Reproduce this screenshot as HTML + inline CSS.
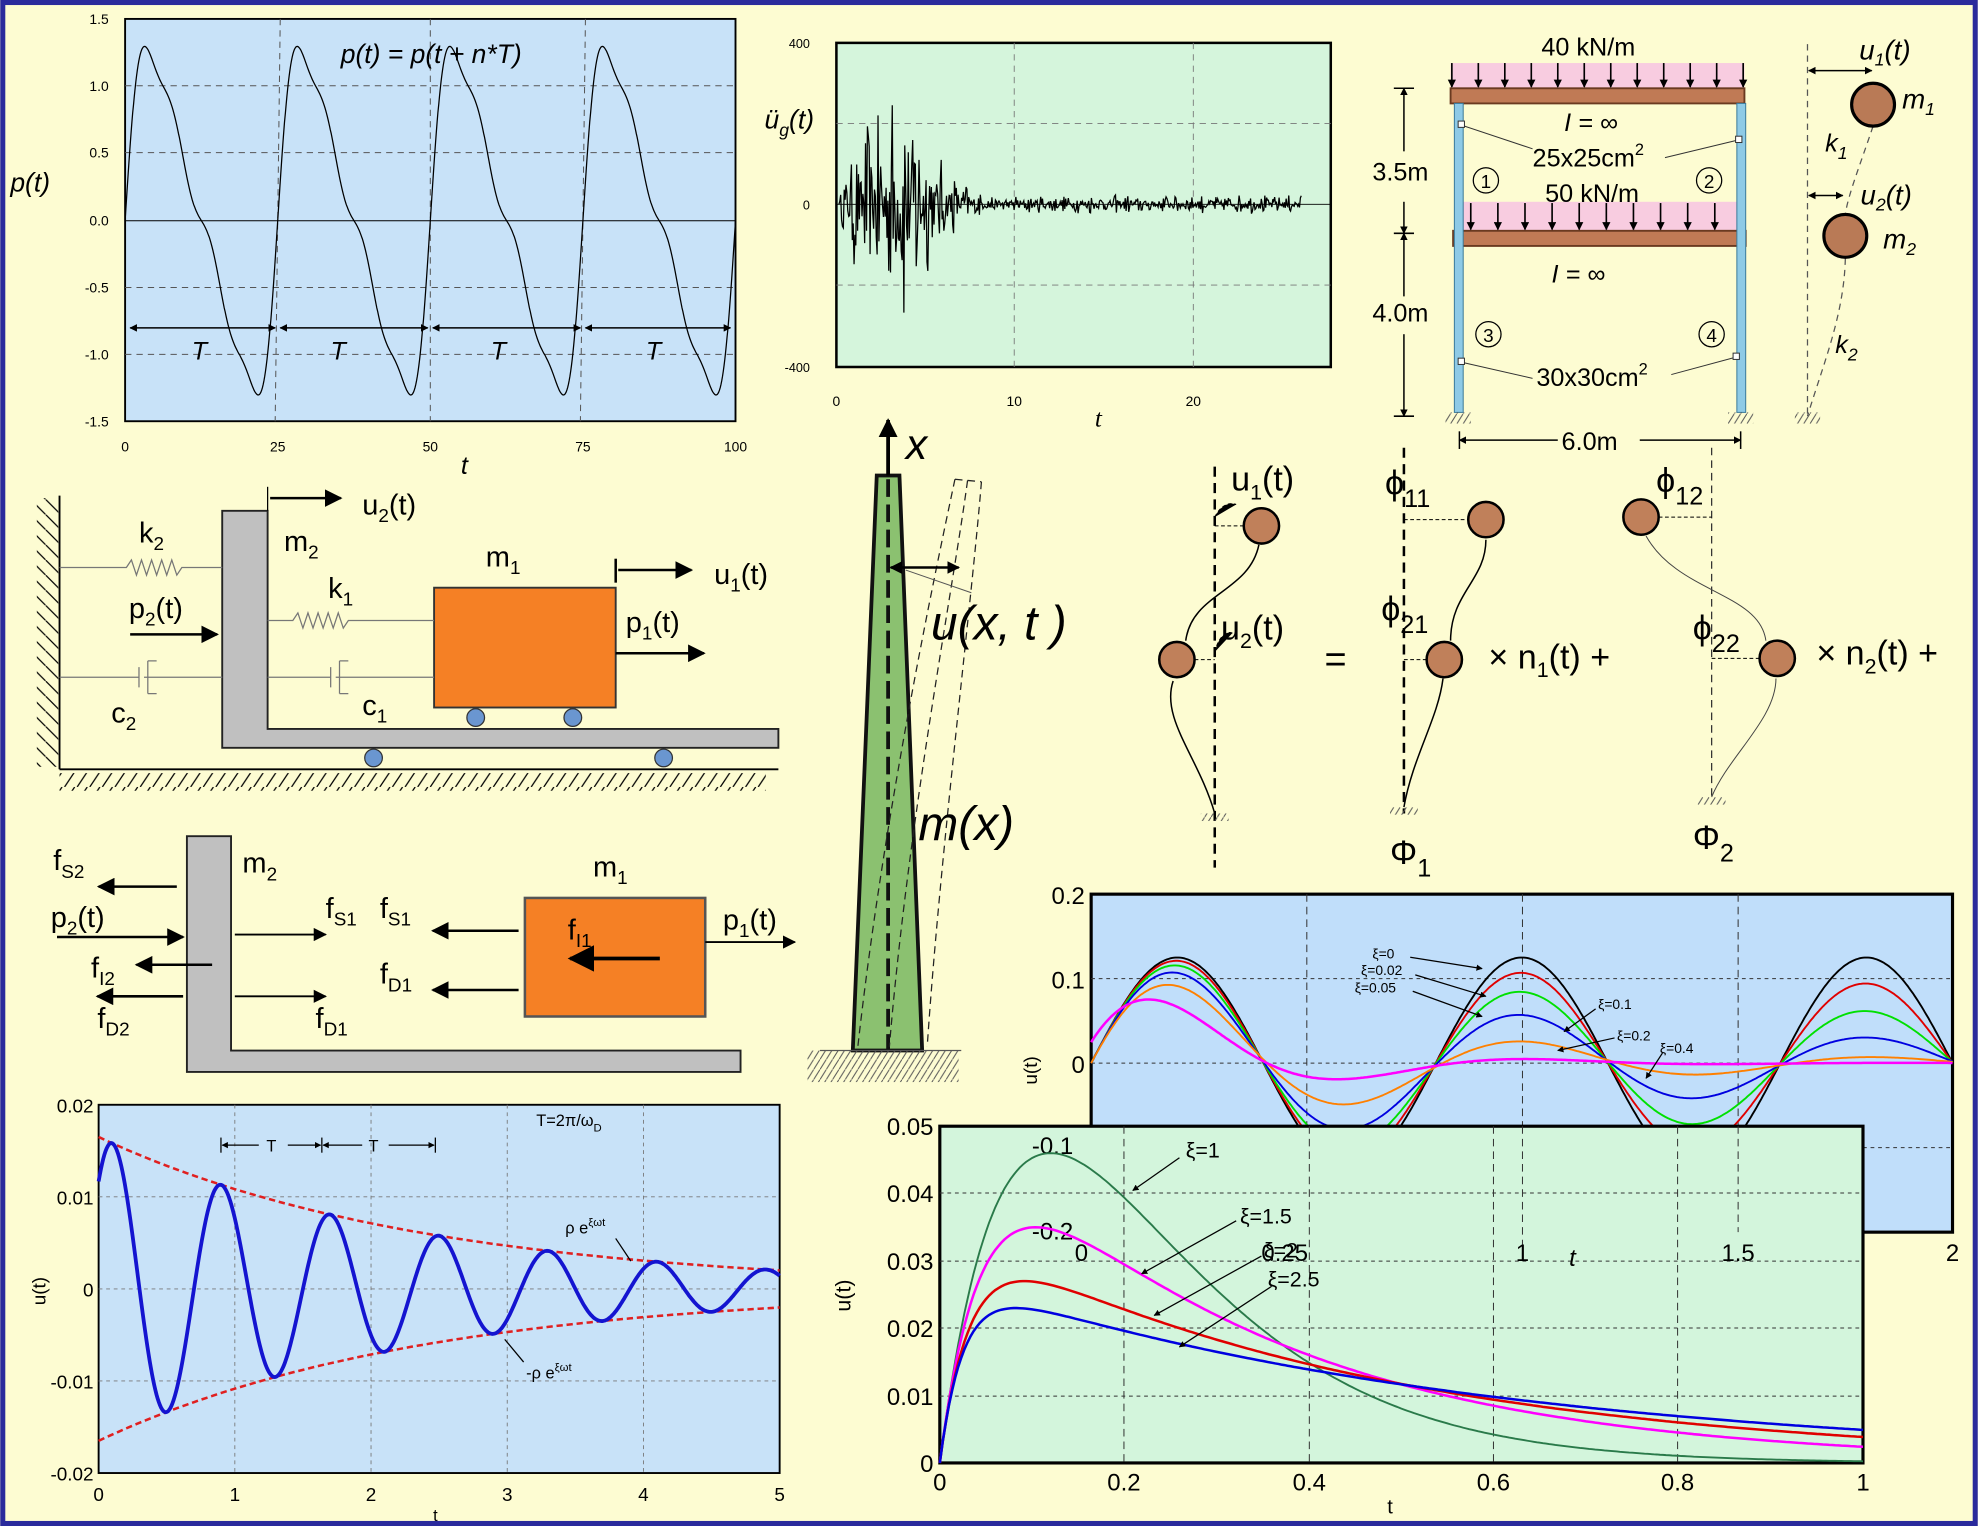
<!DOCTYPE html>
<html><head><meta charset="utf-8"><style>
html,body{margin:0;padding:0;background:#fdfcd2;}
svg{display:block}
text{font-family:"Liberation Sans",sans-serif;}
.s{font-family:"Liberation Serif",serif;font-style:italic;}
</style></head><body>
<svg id="sv" width="1978" height="1526" viewBox="0 0 1568 1210" xmlns="http://www.w3.org/2000/svg">
<defs>
<marker id="ah" viewBox="0 0 10 10" refX="9" refY="5" markerWidth="7" markerHeight="7" orient="auto-start-reverse"><path d="M0,0 L10,5 L0,10 z" fill="#000"/></marker>
<marker id="ahs" viewBox="0 0 10 10" refX="9" refY="5" markerWidth="5" markerHeight="5" orient="auto-start-reverse"><path d="M0,0 L10,5 L0,10 z" fill="#000"/></marker>
<pattern id="hatch" width="10" height="12" patternUnits="userSpaceOnUse"><line x1="9" y1="0" x2="1" y2="12" stroke="#000" stroke-width="1"/></pattern>
<pattern id="hatchL" width="12" height="12" patternUnits="userSpaceOnUse"><line x1="0" y1="0" x2="12" y2="12" stroke="#000" stroke-width="1"/></pattern>
<pattern id="hatchs" width="5" height="8" patternUnits="userSpaceOnUse"><line x1="5" y1="0" x2="0" y2="8" stroke="#555" stroke-width="0.8"/></pattern>
</defs>
<rect x="0" y="0" width="1568" height="1210" fill="#fdfcd2"/>
<rect x="2" y="2" width="1564" height="1206" fill="none" stroke="#2a2a9c" stroke-width="4"/>

<!-- Panel 1 -->
<rect x="99" y="15" width="484" height="319" fill="#c8e2f8" stroke="#000" stroke-width="1.5"/>
<g stroke="#555" stroke-width="0.8" stroke-dasharray="5,4">
<line x1="99" y1="68" x2="583" y2="68"/><line x1="99" y1="121" x2="583" y2="121"/><line x1="99" y1="228" x2="583" y2="228"/><line x1="99" y1="281" x2="583" y2="281"/>
<line x1="222" y1="15" x2="218" y2="334"/><line x1="341" y1="15" x2="341" y2="334"/><line x1="464" y1="15" x2="460" y2="334"/>
</g>
<line x1="99" y1="175" x2="583" y2="175" stroke="#000" stroke-width="0.8"/>
<g font-size="11" text-anchor="end"><text x="86" y="19">1.5</text><text x="86" y="72">1.0</text><text x="86" y="125">0.5</text><text x="86" y="179">0.0</text><text x="86" y="232">-0.5</text><text x="86" y="285">-1.0</text><text x="86" y="338">-1.5</text></g>
<g font-size="11" text-anchor="middle"><text x="99" y="358">0</text><text x="220" y="358">25</text><text x="341" y="358">50</text><text x="462" y="358">75</text><text x="583" y="358">100</text></g>
<text x="368" y="376" font-size="20" font-style="italic" text-anchor="middle">t</text>
<text x="8" y="152" font-size="21" font-style="italic">p(t)</text>
<text x="270" y="50" font-size="21" font-style="italic">p(t) = p(t + n*T)</text>
<path id="p1" fill="none" stroke="#000" stroke-width="1"/>
<g stroke="#000" stroke-width="1.2" marker-start="url(#ahs)" marker-end="url(#ahs)">
<line x1="103" y1="260" x2="218" y2="260"/><line x1="222" y1="260" x2="339" y2="260"/><line x1="343" y1="260" x2="460" y2="260"/><line x1="464" y1="260" x2="579" y2="260"/>
</g>
<g font-size="20" font-style="italic" text-anchor="middle"><text x="158" y="285">T</text><text x="268" y="285">T</text><text x="395" y="285">T</text><text x="518" y="285">T</text></g>

<!-- Panel 2 -->
<rect x="663" y="34" width="392" height="257" fill="#d5f5dc" stroke="#000" stroke-width="2"/>
<g stroke="#777" stroke-width="0.7" stroke-dasharray="5,4">
<line x1="663" y1="98" x2="1055" y2="98"/><line x1="663" y1="226" x2="1055" y2="226"/>
<line x1="804" y1="34" x2="804" y2="291"/><line x1="946" y1="34" x2="946" y2="291"/>
</g>
<line x1="663" y1="162" x2="1055" y2="162" stroke="#000" stroke-width="0.7"/>
<g font-size="10" text-anchor="end"><text x="642" y="38" font-family="Liberation Serif">400</text><text x="642" y="166" font-family="Liberation Serif">0</text><text x="642" y="295" font-family="Liberation Serif">-400</text></g>
<g font-size="11" text-anchor="middle"><text x="663" y="322" font-family="Liberation Serif">0</text><text x="804" y="322" font-family="Liberation Serif">10</text><text x="946" y="322" font-family="Liberation Serif">20</text></g>
<text x="868" y="338" class="s" font-size="20">t</text>
<text x="606" y="102" font-size="21" font-style="italic">ü<tspan font-size="14" dy="6">g</tspan><tspan dy="-6">(t)</tspan></text>
<path id="p2" fill="none" stroke="#000" stroke-width="1"/>

<!-- Panel 3 frame -->
<rect x="1150" y="50" width="233" height="20" fill="#f8cce0"/>
<rect x="1150" y="70" width="233" height="12" fill="#c07a55" stroke="#6a3a20" stroke-width="1.5"/>
<rect x="1160" y="160" width="217" height="23" fill="#f8cce0"/>
<rect x="1152" y="183" width="232" height="12" fill="#c07a55" stroke="#6a3a20" stroke-width="1.5"/>
<g id="load1" stroke="#000" stroke-width="1.3"></g>
<rect x="1153" y="82" width="7" height="245" fill="#8ecae6" stroke="#3a7a9a" stroke-width="0.8"/>
<rect x="1377" y="82" width="7" height="245" fill="#8ecae6" stroke="#3a7a9a" stroke-width="0.8"/>
<rect x="1146" y="327" width="20" height="9" fill="url(#hatchs)"/>
<rect x="1370" y="327" width="20" height="9" fill="url(#hatchs)"/>
<rect x="1423" y="327" width="20" height="9" fill="url(#hatchs)"/>
<g stroke="#000" stroke-width="1.2">
<line x1="1105" y1="70" x2="1121" y2="70"/><line x1="1105" y1="185" x2="1121" y2="185"/><line x1="1105" y1="330" x2="1121" y2="330"/>
<line x1="1113" y1="70" x2="1113" y2="120" marker-start="url(#ahs)"/><line x1="1113" y1="160" x2="1113" y2="185" marker-end="url(#ahs)"/>
<line x1="1113" y1="185" x2="1113" y2="235" marker-start="url(#ahs)"/><line x1="1113" y1="265" x2="1113" y2="330" marker-end="url(#ahs)"/>
<line x1="1157" y1="342" x2="1157" y2="356"/><line x1="1380" y1="342" x2="1380" y2="356"/>
<line x1="1157" y1="349" x2="1235" y2="349" marker-start="url(#ahs)"/><line x1="1300" y1="349" x2="1380" y2="349" marker-end="url(#ahs)"/>
</g>
<g font-size="20"><text x="1088" y="143">3.5m</text><text x="1088" y="255">4.0m</text><text x="1238" y="357">6.0m</text>
<text x="1222" y="44">40 kN/m</text><text x="1225" y="160">50 kN/m</text>
<text x="1215" y="132">25x25cm<tspan font-size="13" dy="-9">2</tspan></text>
<text x="1218" y="306">30x30cm<tspan font-size="13" dy="-9">2</tspan></text></g>
<g font-size="20" class="s"><text x="1240" y="104">I = ∞</text><text x="1230" y="224">I = ∞</text></g>
<g font-size="15" text-anchor="middle">
<circle cx="1178" cy="143" r="10" fill="none" stroke="#000"/><text x="1178" y="149" font-family="Liberation Serif">1</text>
<circle cx="1355" cy="143" r="10" fill="none" stroke="#000"/><text x="1355" y="149" font-family="Liberation Serif">2</text>
<circle cx="1180" cy="265" r="10" fill="none" stroke="#000"/><text x="1180" y="271" font-family="Liberation Serif">3</text>
<circle cx="1357" cy="265" r="10" fill="none" stroke="#000"/><text x="1357" y="271" font-family="Liberation Serif">4</text>
</g>
<g stroke="#333" stroke-width="0.8" fill="#fff">
<line x1="1158" y1="99" x2="1215" y2="118"/><line x1="1378" y1="111" x2="1320" y2="125"/>
<line x1="1158" y1="287" x2="1215" y2="300"/><line x1="1377" y1="283" x2="1325" y2="297"/>
<rect x="1156" y="96" width="5" height="5"/><rect x="1376" y="108" width="5" height="5"/><rect x="1156" y="284" width="5" height="5"/><rect x="1374" y="280" width="5" height="5"/>
</g>
<line x1="1433" y1="35" x2="1433" y2="330" stroke="#555" stroke-width="1" stroke-dasharray="5,4"/>
<path d="M1485,100 C1475,130 1465,155 1463,170 M1463,205 C1462,250 1445,290 1433,330" fill="none" stroke="#555" stroke-dasharray="5,4"/>
<circle cx="1485" cy="83" r="17" fill="#b97a56" stroke="#000" stroke-width="2.5"/>
<circle cx="1463" cy="187" r="17" fill="#b97a56" stroke="#000" stroke-width="2.5"/>
<g stroke="#000" stroke-width="1.2"><line x1="1434" y1="56" x2="1484" y2="56" marker-start="url(#ahs)" marker-end="url(#ahs)"/><line x1="1434" y1="155" x2="1461" y2="155" marker-start="url(#ahs)" marker-end="url(#ahs)"/></g>
<g class="s" font-size="22"><text x="1474" y="47">u<tspan font-size="14" dy="5">1</tspan><tspan dy="-5">(t)</tspan></text><text x="1475" y="162">u<tspan font-size="14" dy="5">2</tspan><tspan dy="-5">(t)</tspan></text>
<text x="1508" y="86">m<tspan font-size="14" dy="5">1</tspan></text><text x="1493" y="197">m<tspan font-size="14" dy="5">2</tspan></text></g>
<g font-size="20" font-style="italic"><text x="1447" y="120">k<tspan font-size="14" dy="6">1</tspan></text><text x="1455" y="280">k<tspan font-size="14" dy="6">2</tspan></text></g>

<!-- Panel 4 shear building -->
<line x1="47" y1="393" x2="47" y2="610" stroke="#000" stroke-width="1.5"/>
<rect x="29" y="395" width="17" height="213" fill="url(#hatchL)"/>
<line x1="47" y1="610" x2="617" y2="610" stroke="#000" stroke-width="1.5"/>
<rect x="47" y="613" width="560" height="14" fill="url(#hatch)"/>
<path d="M176,405 H212 V578 H617 V593 H176 Z" fill="#c0c0c0" stroke="#222" stroke-width="1.5"/>
<g fill="#6a96d0" stroke="#333"><circle cx="296" cy="601" r="7"/><circle cx="526" cy="601" r="7"/><circle cx="377" cy="569" r="7"/><circle cx="454" cy="569" r="7"/></g>
<rect x="344" y="466" width="144" height="95" fill="#f58025" stroke="#333" stroke-width="1.5"/>
<g fill="none" stroke="#777" stroke-width="1">
<path d="M47,450 H100 l4,-6 l4,12 l4,-12 l4,12 l4,-12 l4,12 l4,-12 l4,12 l4,-12 l4,12 l4,-6 H176"/>
<path d="M212,492 H232 l4,-6 l4,12 l4,-12 l4,12 l4,-12 l4,12 l4,-12 l4,12 l4,-12 l4,12 l4,-6 H344"/>
<path d="M47,537 H110 M110,529 V545 M117,524 H124 M117,550 H124 M117,524 V550 M114,537 H176"/>
<path d="M212,537 H262 M262,529 V545 M269,524 H276 M269,550 H276 M269,524 V550 M266,537 H344"/>
</g>
<g stroke="#000" stroke-width="2">
<line x1="103" y1="503" x2="172" y2="503" marker-end="url(#ah)"/>
<line x1="214" y1="395" x2="270" y2="395" marker-end="url(#ah)"/>
<line x1="490" y1="452" x2="548" y2="452" marker-end="url(#ah)"/>
<line x1="488" y1="518" x2="558" y2="518" marker-end="url(#ah)"/>
<line x1="212" y1="386" x2="212" y2="405" stroke-width="1"/><line x1="488" y1="443" x2="488" y2="462"/>
</g>
<g font-size="23"><text x="110" y="430">k<tspan font-size="15" dy="6">2</tspan></text>
<text x="102" y="490">p<tspan font-size="15" dy="6">2</tspan><tspan dy="-6">(t)</tspan></text>
<text x="88" y="573">c<tspan font-size="15" dy="6">2</tspan></text>
<text x="225" y="437">m<tspan font-size="15" dy="6">2</tspan></text>
<text x="287" y="408">u<tspan font-size="15" dy="6">2</tspan><tspan dy="-6">(t)</tspan></text>
<text x="260" y="474">k<tspan font-size="15" dy="6">1</tspan></text>
<text x="287" y="567">c<tspan font-size="15" dy="6">1</tspan></text>
<text x="385" y="449">m<tspan font-size="15" dy="6">1</tspan></text>
<text x="566" y="463">u<tspan font-size="15" dy="6">1</tspan><tspan dy="-6">(t)</tspan></text>
<text x="496" y="501">p<tspan font-size="15" dy="6">1</tspan><tspan dy="-6">(t)</tspan></text></g>

<!-- Panel 5 FBD -->
<path d="M148,663 H183 V833 H587 V850 H148 Z" fill="#c0c0c0" stroke="#222" stroke-width="1.5"/>
<rect x="416" y="712" width="143" height="94" fill="#f58025" stroke="#555" stroke-width="2"/>
<g stroke="#000" stroke-width="2">
<line x1="140" y1="703" x2="78" y2="703" marker-end="url(#ah)"/>
<line x1="45" y1="743" x2="145" y2="743" marker-end="url(#ah)"/>
<line x1="168" y1="765" x2="108" y2="765" marker-end="url(#ah)"/>
<line x1="145" y1="790" x2="77" y2="790" marker-end="url(#ah)"/>
<line x1="186" y1="741" x2="258" y2="741" marker-end="url(#ah)" stroke-width="1.5"/>
<line x1="186" y1="790" x2="258" y2="790" marker-end="url(#ah)" stroke-width="1.5"/>
<line x1="411" y1="738" x2="343" y2="738" marker-end="url(#ah)"/>
<line x1="411" y1="785" x2="343" y2="785" marker-end="url(#ah)"/>
<line x1="523" y1="760" x2="452" y2="760" marker-end="url(#ah)" stroke-width="3"/>
<line x1="559" y1="747" x2="630" y2="747" marker-end="url(#ah)" stroke-width="1.5"/>
</g>
<g font-size="23"><text x="42" y="690">f<tspan font-size="15" dy="6">S2</tspan></text>
<text x="40" y="735">p<tspan font-size="15" dy="6">2</tspan><tspan dy="-6">(t)</tspan></text>
<text x="72" y="775">f<tspan font-size="15" dy="6">I2</tspan></text>
<text x="77" y="815">f<tspan font-size="15" dy="6">D2</tspan></text>
<text x="192" y="692">m<tspan font-size="15" dy="6">2</tspan></text>
<text x="258" y="728">f<tspan font-size="15" dy="6">S1</tspan></text>
<text x="250" y="815">f<tspan font-size="15" dy="6">D1</tspan></text>
<text x="301" y="728">f<tspan font-size="15" dy="6">S1</tspan></text>
<text x="301" y="780">f<tspan font-size="15" dy="6">D1</tspan></text>
<text x="470" y="695">m<tspan font-size="15" dy="6">1</tspan></text>
<text x="450" y="745">f<tspan font-size="15" dy="6">I1</tspan></text>
<text x="573" y="737">p<tspan font-size="15" dy="6">1</tspan><tspan dy="-6">(t)</tspan></text></g>

<!-- Panel 6 -->
<rect x="78" y="876" width="540" height="292" fill="#c8e2f8" stroke="#000" stroke-width="1.5"/>
<g stroke="#777" stroke-width="0.7" stroke-dasharray="3,3">
<line x1="78" y1="949" x2="618" y2="949"/><line x1="78" y1="1022" x2="618" y2="1022"/><line x1="78" y1="1095" x2="618" y2="1095"/>
<line x1="186" y1="876" x2="186" y2="1168"/><line x1="294" y1="876" x2="294" y2="1168"/><line x1="402" y1="876" x2="402" y2="1168"/><line x1="510" y1="876" x2="510" y2="1168"/>
</g>
<g font-size="15" text-anchor="end"><text x="74" y="882">0.02</text><text x="74" y="955">0.01</text><text x="74" y="1028">0</text><text x="74" y="1101">-0.01</text><text x="74" y="1174">-0.02</text></g>
<g font-size="15" text-anchor="middle"><text x="78" y="1190">0</text><text x="186" y="1190">1</text><text x="294" y="1190">2</text><text x="402" y="1190">3</text><text x="510" y="1190">4</text><text x="618" y="1190">5</text><text x="345" y="1206" font-size="13">t</text></g>
<text x="0" y="0" font-size="15" transform="translate(36,1035) rotate(-90)">u(t)</text>
<path id="p6e1" fill="none" stroke="#e02020" stroke-width="2" stroke-dasharray="5,3"/>
<path id="p6e2" fill="none" stroke="#e02020" stroke-width="2" stroke-dasharray="5,3"/>
<path id="p6" fill="none" stroke="#1414d0" stroke-width="3"/>
<g stroke="#000" stroke-width="1"><line x1="175" y1="902" x2="175" y2="914"/><line x1="255" y1="902" x2="255" y2="914"/><line x1="345" y1="902" x2="345" y2="914"/>
<line x1="176" y1="908" x2="205" y2="908" marker-start="url(#ahs)"/><line x1="228" y1="908" x2="254" y2="908" marker-end="url(#ahs)"/>
<line x1="256" y1="908" x2="287" y2="908" marker-start="url(#ahs)"/><line x1="308" y1="908" x2="344" y2="908" marker-end="url(#ahs)"/>
<line x1="488" y1="982" x2="500" y2="1000"/><line x1="415" y1="1080" x2="400" y2="1062"/></g>
<g font-size="13"><text x="211" y="913">T</text><text x="292" y="913">T</text><text x="425" y="893">T=2π/ω<tspan font-size="9" dy="4">D</tspan></text>
<text x="448" y="978">ρ e<tspan font-size="9" dy="-6">ξωt</tspan></text><text x="417" y="1093">-ρ e<tspan font-size="9" dy="-6">ξωt</tspan></text></g>

<!-- Panel 7 column -->
<path d="M676,833 L695,377 L713,377 L731,833 Z" fill="#8bc170" stroke="#111" stroke-width="3"/>
<line x1="704" y1="380" x2="704" y2="833" stroke="#111" stroke-width="3" stroke-dasharray="14,6"/>
<g fill="none" stroke="#222" stroke-width="1" stroke-dasharray="6,4">
<path d="M757,380 C740,460 700,650 680,830"/><path d="M767,381 C755,470 720,650 705,830"/><path d="M778,382 C770,480 745,680 735,830"/>
<line x1="757" y1="380" x2="778" y2="382"/>
</g>
<line x1="704" y1="377" x2="704" y2="333" stroke="#000" stroke-width="3" marker-end="url(#ahs)"/>
<line x1="706" y1="450" x2="760" y2="450" stroke="#000" stroke-width="2" marker-start="url(#ahs)" marker-end="url(#ahs)"/>
<line x1="718" y1="452" x2="770" y2="470" stroke="#555" stroke-width="0.8"/>
<rect x="640" y="833" width="120" height="25" fill="url(#hatchs)"/>
<line x1="650" y1="833" x2="762" y2="833" stroke="#555"/>
<g class="s"><text x="718" y="364" font-size="34">x</text><text x="738" y="507" font-size="38">u(x, t )</text><text x="728" y="666" font-size="38">m(x)</text></g>

<!-- Panel 8 modes -->
<line x1="963" y1="370" x2="963" y2="688" stroke="#000" stroke-width="2" stroke-dasharray="8,5"/>
<line x1="1113" y1="355" x2="1113" y2="645" stroke="#000" stroke-width="2" stroke-dasharray="8,5"/>
<line x1="1357" y1="355" x2="1357" y2="632" stroke="#333" stroke-width="1" stroke-dasharray="6,4"/>
<g fill="none" stroke="#000" stroke-width="1.2">
<path d="M963,645 C950,600 920,570 930,540 M940,508 C945,470 990,470 998,432"/>
<path d="M1113,640 C1120,600 1140,570 1144,538 M1150,508 C1150,470 1178,460 1178,428"/>
<path d="M1357,632 C1370,600 1408,570 1408,538 M1400,508 C1395,470 1330,470 1305,425" stroke="#444" stroke-width="0.8"/>
</g>
<g stroke="#000" stroke-width="0.8" stroke-dasharray="3,2"><line x1="963" y1="417" x2="986" y2="417"/><line x1="947" y1="523" x2="963" y2="523"/><line x1="1113" y1="412" x2="1164" y2="412"/><line x1="1113" y1="523" x2="1131" y2="523"/><line x1="1315" y1="410" x2="1357" y2="410"/><line x1="1357" y1="522" x2="1395" y2="522"/>
<path d="M963,410 C968,400 975,398 980,400"/><path d="M963,517 C966,505 972,500 977,502"/></g>
<g fill="#c0805a" stroke="#000" stroke-width="2"><circle cx="1000" cy="417" r="14"/><circle cx="933" cy="523" r="14"/><circle cx="1178" cy="412" r="14"/><circle cx="1145" cy="523" r="14"/><circle cx="1301" cy="410" r="14"/><circle cx="1409" cy="522" r="14"/></g>
<g fill="url(#hatchs)"><rect x="952" y="645" width="22" height="6"/><rect x="1102" y="640" width="22" height="6"/><rect x="1346" y="632" width="22" height="6"/></g>
<g font-size="27"><text x="976" y="389">u<tspan font-size="17" dy="7">1</tspan><tspan dy="-7">(t)</tspan></text>
<text x="968" y="507">u<tspan font-size="17" dy="7">2</tspan><tspan dy="-7">(t)</tspan></text>
<text x="1050" y="533" font-size="30">=</text>
<text x="1098" y="392">ϕ<tspan font-size="20" dy="10">11</tspan></text>
<text x="1095" y="492">ϕ<tspan font-size="20" dy="10">21</tspan></text>
<text x="1180" y="530">× n<tspan font-size="17" dy="7">1</tspan><tspan dy="-7">(t) +</tspan></text>
<text x="1102" y="685">Φ<tspan font-size="20" dy="10">1</tspan></text>
<text x="1313" y="390">ϕ<tspan font-size="20" dy="10">12</tspan></text>
<text x="1342" y="507">ϕ<tspan font-size="20" dy="10">22</tspan></text>
<text x="1440" y="527">× n<tspan font-size="17" dy="7">2</tspan><tspan dy="-7">(t) +</tspan></text>
<text x="1342" y="673">Φ<tspan font-size="20" dy="10">2</tspan></text></g>

<!-- Panel 9 -->
<rect x="865" y="709" width="683" height="268" fill="#c0defa" stroke="#000" stroke-width="2.5"/>
<g stroke="#333" stroke-width="0.8" stroke-dasharray="3,3">
<line x1="865" y1="776" x2="1548" y2="776"/><line x1="865" y1="843" x2="1548" y2="843"/><line x1="865" y1="910" x2="1548" y2="910"/>
</g>
<g stroke="#333" stroke-width="0.8" stroke-dasharray="6,4"><line x1="1036" y1="709" x2="1036" y2="1160"/><line x1="1207" y1="709" x2="1207" y2="977"/><line x1="1378" y1="709" x2="1378" y2="977"/></g>
<g id="p9"></g>
<g stroke="#000" stroke-width="1" font-size="10">
<line x1="1118" y1="759" x2="1175" y2="768" marker-end="url(#ahs)"/>
<line x1="1122" y1="773" x2="1178" y2="790" marker-end="url(#ahs)"/>
<line x1="1120" y1="786" x2="1175" y2="806" marker-end="url(#ahs)"/>
<line x1="1265" y1="800" x2="1240" y2="818" marker-end="url(#ahs)"/>
<line x1="1280" y1="823" x2="1235" y2="833" marker-end="url(#ahs)"/>
<line x1="1318" y1="835" x2="1305" y2="855" marker-end="url(#ahs)"/>
</g>
<g font-size="11" fill="#000"><text x="1088" y="760">ξ=0</text><text x="1079" y="773">ξ=0.02</text><text x="1074" y="787">ξ=0.05</text><text x="1267" y="800">ξ=0.1</text><text x="1282" y="825">ξ=0.2</text><text x="1316" y="835">ξ=0.4</text></g>

<!-- Panel 10 -->
<rect x="745" y="893" width="732" height="267" fill="#d3f5dc" stroke="#000" stroke-width="2.5"/>
<g stroke="#333" stroke-width="0.8" stroke-dasharray="3,3">
<line x1="745" y1="946" x2="1477" y2="946"/><line x1="745" y1="1000" x2="1477" y2="1000"/><line x1="745" y1="1053" x2="1477" y2="1053"/><line x1="745" y1="1107" x2="1477" y2="1107"/>
</g>
<g stroke="#333" stroke-width="0.8" stroke-dasharray="6,4"><line x1="891" y1="893" x2="891" y2="1160"/><line x1="1038" y1="893" x2="1038" y2="1160"/><line x1="1184" y1="893" x2="1184" y2="1160"/><line x1="1330" y1="893" x2="1330" y2="1160"/>
<line x1="1207" y1="893" x2="1207" y2="1000"/><line x1="1378" y1="893" x2="1378" y2="977"/></g>
<g font-size="19" fill="#000"><text x="818" y="915">-0.1</text><text x="818" y="983">-0.2</text><text x="852" y="1000">0</text><text x="1000" y="1000">0.25</text></g>
<g font-size="19" text-anchor="middle"><text x="1207" y="1000">1</text><text x="1378" y="1000">1.5</text><text x="1548" y="1000">2</text></g>
<text x="1244" y="1004" font-size="19" font-style="italic">t</text>
<g id="p10"></g>
<g stroke="#000" stroke-width="1">
<line x1="935" y1="918" x2="898" y2="944" marker-end="url(#ahs)"/>
<line x1="980" y1="968" x2="905" y2="1010" marker-end="url(#ahs)"/>
<line x1="1000" y1="996" x2="915" y2="1043" marker-end="url(#ahs)"/>
<line x1="1008" y1="1020" x2="935" y2="1068" marker-end="url(#ahs)"/>
</g>
<g font-size="17"><text x="940" y="918">ξ=1</text><text x="983" y="970">ξ=1.5</text><text x="1002" y="997">ξ=2</text><text x="1005" y="1020">ξ=2.5</text></g>
<g font-size="19" text-anchor="end"><text x="740" y="900">0.05</text><text x="740" y="953">0.04</text><text x="740" y="1007">0.03</text><text x="740" y="1060">0.02</text><text x="740" y="1114">0.01</text><text x="740" y="1167">0</text></g>
<g font-size="19" text-anchor="middle"><text x="745" y="1182">0</text><text x="891" y="1182">0.2</text><text x="1038" y="1182">0.4</text><text x="1184" y="1182">0.6</text><text x="1330" y="1182">0.8</text><text x="1477" y="1182">1</text><text x="1102" y="1200" font-size="16">t</text></g>
<text font-size="17" transform="translate(674,1040) rotate(-90)">u(t)</text>
<g font-size="19" text-anchor="end"><text x="860" y="717">0.2</text><text x="860" y="784">0.1</text><text x="860" y="851">0</text></g>
<text font-size="15" transform="translate(822,860) rotate(-90)">u(t)</text>
</svg>
<script>
function P(f,t0,t1,X,Y,n){var d="";for(var i=0;i<=n;i++){var t=t0+(t1-t0)*i/n;d+=(i?"L":"M")+X(t).toFixed(1)+","+Y(f(t)).toFixed(1);}return d;}
var ns="http://www.w3.org/2000/svg";
function add(g,d,c,w){var p=document.createElementNS(ns,"path");p.setAttribute("d",d);p.setAttribute("fill","none");p.setAttribute("stroke",c);p.setAttribute("stroke-width",w);document.getElementById(g).appendChild(p);}
// panel1
var mx=0;function f1(t){var th=2*Math.PI*t/25;return Math.sin(th)+0.35*Math.sin(2*th)+0.1*Math.sin(4*th)+0.12*Math.sin(3*th);}
for(var i=0;i<1000;i++){mx=Math.max(mx,f1(i*25/1000));}
document.getElementById("p1").setAttribute("d",P(function(t){return 1.3*f1(t)/mx;},0,100,function(t){return 99+t*4.84},function(v){return 175-v*106.3},800));
// panel2
var s=12345;function rnd(){s=(s*16807)%2147483647;return s/2147483647-0.5;}
var d="M665,162";for(var i=0;i<=520;i++){var t=i*26/520;var env=t<0.5?t*2*30:(t<4?30+(t-0.5)*12:Math.max(5,70*Math.exp(-(t-4)*0.6)));var v=rnd()*2*env*(1+0.5*Math.sin(t*9));d+="L"+(665+t*14.1).toFixed(1)+","+(162-v).toFixed(1);}
document.getElementById("p2").setAttribute("d",d);
// panel6
var X6=function(t){return 78+t*108},Y6=function(v){return 1022-v*7300};
document.getElementById("p6").setAttribute("d",P(function(t){return 0.0165*Math.exp(-0.42*t)*Math.cos(2*Math.PI/0.8*(t-0.1));},0,5,X6,Y6,600));
document.getElementById("p6e1").setAttribute("d",P(function(t){return 0.0165*Math.exp(-0.42*t);},0,5,X6,Y6,100));
document.getElementById("p6e2").setAttribute("d",P(function(t){return -0.0165*Math.exp(-0.42*t);},0,5,X6,Y6,100));
// panel9
var w=2*Math.PI/0.8;var X9=function(t){return 865+t*341.5},Y9=function(v){return 843-v*670};
[[0,"#000"],[0.02,"#e00000"],[0.05,"#00e000"],[0.1,"#0000e0"],[0.2,"#ff8000"],[0.4,"#ff00ff"]].forEach(function(a){var z=a[0];var wd=w*Math.sqrt(1-z*z);add("p9",P(function(t){return 0.125*Math.exp(-z*w*t)*Math.sin(wd*t+(z>0.3?0.2:0));},0,2,X9,Y9,500),a[1],z==0.4?2:1.5);});
// panel10
var om=8.3;var X10=function(t){return 745+t*732},Y10=function(v){return 1160-v*5340};
add("p10",P(function(t){return 0.046*(t/0.12)*Math.exp(1-t/0.12);},0,1,X10,Y10,300),"#2a7a4a",1.5);
[[1.5,0.035,"#ff00ff"],[2,0.027,"#e00000"],[2.5,0.023,"#0000e0"]].forEach(function(a){var z=a[0],r=Math.sqrt(z*z-1),s1=om*(z-r),s2=om*(z+r);var g=function(t){return Math.exp(-s1*t)-Math.exp(-s2*t)};var m=0;for(var i=0;i<500;i++)m=Math.max(m,g(i/500));add("p10",P(function(t){return a[1]*g(t)/m;},0,1,X10,Y10,300),a[2],2);});
// loads
var L=document.getElementById("load1");
for(var i=0;i<12;i++){var x=1151+i*21;var l=document.createElementNS(ns,"line");l.setAttribute("x1",x);l.setAttribute("x2",x);l.setAttribute("y1",50);l.setAttribute("y2",69);l.setAttribute("marker-end","url(#ahs)");L.appendChild(l);}
for(var i=0;i<10;i++){var x=1166+i*21.5;var l=document.createElementNS(ns,"line");l.setAttribute("x1",x);l.setAttribute("x2",x);l.setAttribute("y1",161);l.setAttribute("y2",182);l.setAttribute("marker-end","url(#ahs)");L.appendChild(l);}
</script>
</body></html>
